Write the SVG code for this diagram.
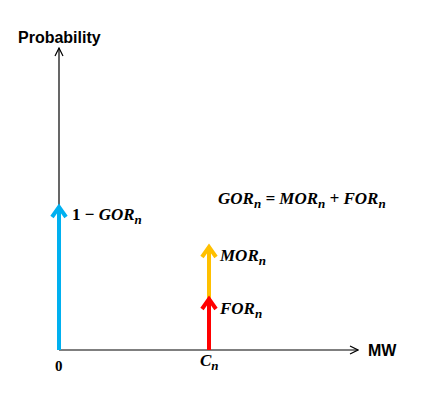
<svg xmlns="http://www.w3.org/2000/svg" width="444" height="396" viewBox="0 0 444 396">
<style>
.axis{stroke:#000;stroke-width:1.2;fill:none}
.lbl{font-family:"Liberation Sans",Arial,sans-serif;font-weight:bold;font-size:16px;fill:#000}
.m{font-family:"Liberation Serif","Times New Roman",serif;font-weight:bold;font-style:italic;font-size:17px;fill:#000}
.s{font-size:13px}
</style>
<defs>
<marker id="open" viewBox="0 0 10 10" refX="9" refY="5" markerWidth="10" markerHeight="10" markerUnits="userSpaceOnUse" orient="auto">
<path d="M1,1 L9,5 L1,9" fill="none" stroke="#000" stroke-width="1.2"/>
</marker>
</defs>
<rect width="444" height="396" fill="#fff"/>
<g id="connectors">
<line class="axis" x1="59" y1="350" x2="59" y2="48" marker-end="url(#open)"/>
<line class="axis" x1="59" y1="350" x2="358" y2="350" marker-end="url(#open)"/>
<g id="bar-gor" stroke="#00b0f0" stroke-width="4" fill="none">
<line x1="59" y1="350" x2="59" y2="208"/>
<path d="M52,217 L59,207 L66,217"/>
</g>
<g id="bar-mor" stroke="#ffc000" stroke-width="4" fill="none">
<line x1="209" y1="300" x2="209" y2="248"/>
<path d="M202,257 L209,247 L216,257"/>
</g>
<g id="bar-for" stroke="#ff0000" stroke-width="4" fill="none">
<line x1="209" y1="350" x2="209" y2="300"/>
<path d="M202,309 L209,299 L216,309"/>
</g>
</g>
<g id="y-label"><text class="lbl" x="18" y="43">Probability</text></g>
<g id="x-label"><text class="lbl" x="368" y="356">MW</text></g>
<g id="origin"><text class="m" x="55" y="371" style="font-style:normal;font-size:15px">0</text></g>
<g id="cn"><text class="m" x="200" y="366">C<tspan class="s" dy="4">n</tspan></text></g>
<g id="gor-label"><text class="m" x="72" y="220"><tspan style="font-style:normal">1 − </tspan>GOR<tspan class="s" dy="4">n</tspan></text></g>
<g id="mor-label"><text class="m" x="220" y="261">MOR<tspan class="s" dy="4">n</tspan></text></g>
<g id="for-label"><text class="m" x="220" y="314">FOR<tspan class="s" dy="4">n</tspan></text></g>
<g id="formula"><text class="m" x="218" y="204">GOR<tspan class="s" dy="4">n</tspan><tspan dy="-4"> = MOR</tspan><tspan class="s" dy="4">n</tspan><tspan dy="-4"> + FOR</tspan><tspan class="s" dy="4">n</tspan></text></g>
</svg>
